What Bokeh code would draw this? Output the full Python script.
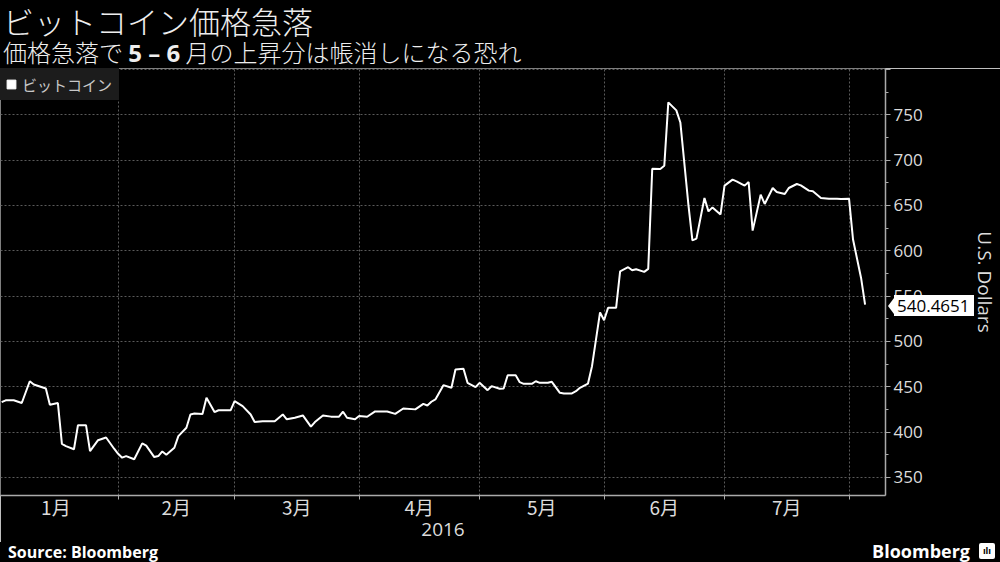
import pandas as pd
from datetime import datetime
from bokeh.plotting import figure
from bokeh.layouts import column
from bokeh.models import (FixedTicker, CustomJSTickFormatter, Range1d, Div,
                          ColumnDataSource, Legend, LegendItem)
from bokeh.embed import file_html
from bokeh.resources import INLINE

# ---------------- data ----------------
dates = [
    "2016-01-03", "2016-01-04", "2016-01-06", "2016-01-08", "2016-01-10", "2016-01-11",
    "2016-01-14", "2016-01-15", "2016-01-17", "2016-01-18", "2016-01-19", "2016-01-21",
    "2016-01-22", "2016-01-24", "2016-01-25", "2016-01-27", "2016-01-29", "2016-01-31",
    "2016-02-01", "2016-02-02", "2016-02-03", "2016-02-05", "2016-02-07", "2016-02-08",
    "2016-02-10", "2016-02-11", "2016-02-12", "2016-02-13", "2016-02-15", "2016-02-16",
    "2016-02-18", "2016-02-19", "2016-02-20", "2016-02-22", "2016-02-23", "2016-02-25",
    "2016-02-26", "2016-02-29",
    "2016-03-01", "2016-03-03", "2016-03-05", "2016-03-06", "2016-03-08", "2016-03-11",
    "2016-03-13", "2016-03-14", "2016-03-16", "2016-03-18", "2016-03-20", "2016-03-21",
    "2016-03-23", "2016-03-25", "2016-03-27", "2016-03-28", "2016-03-29", "2016-03-31",
    "2016-04-01", "2016-04-03", "2016-04-05", "2016-04-08", "2016-04-10", "2016-04-12",
    "2016-04-15", "2016-04-17", "2016-04-18", "2016-04-19", "2016-04-20", "2016-04-22",
    "2016-04-24", "2016-04-25", "2016-04-27", "2016-04-28", "2016-04-30",
    "2016-05-01", "2016-05-03", "2016-05-04", "2016-05-06", "2016-05-07", "2016-05-08",
    "2016-05-10", "2016-05-11", "2016-05-12", "2016-05-14", "2016-05-15", "2016-05-16",
    "2016-05-18", "2016-05-19", "2016-05-21", "2016-05-22", "2016-05-24", "2016-05-25",
    "2016-05-26", "2016-05-28", "2016-05-29", "2016-05-31",
    "2016-06-01", "2016-06-02", "2016-06-04", "2016-06-05", "2016-06-07", "2016-06-08",
    "2016-06-09", "2016-06-11", "2016-06-12", "2016-06-13", "2016-06-15", "2016-06-16",
    "2016-06-17", "2016-06-19", "2016-06-20", "2016-06-22", "2016-06-23", "2016-06-24",
    "2016-06-26", "2016-06-27", "2016-06-28", "2016-06-30",
    "2016-07-01", "2016-07-03", "2016-07-04", "2016-07-06", "2016-07-07", "2016-07-08",
    "2016-07-10", "2016-07-11", "2016-07-13", "2016-07-14", "2016-07-16", "2016-07-17",
    "2016-07-19", "2016-07-20", "2016-07-22", "2016-07-23", "2016-07-25", "2016-07-27",
    "2016-07-29", "2016-07-30",
    "2016-08-01", "2016-08-02", "2016-08-04", "2016-08-05",
]
prices = [
    433, 435, 435, 432, 456, 452.5,
    448, 430, 432, 387, 384.5, 381,
    407.6, 407.6, 379, 391, 394, 381.6,
    376, 371.7, 373.5, 370, 387.5, 385,
    372.4, 373.5, 378.6, 375, 382.7, 395.5,
    404.7, 419.4, 420.5, 420, 437.8, 422,
    424, 424,
    434, 428.6, 419.4, 411, 412, 412,
    419.4, 414, 415.8, 418.3, 405.9, 411,
    418.3, 417, 417, 422.4, 415.8, 414,
    417.6, 416.9, 422.7, 422.7, 420, 426,
    425, 431, 429.3, 433.4, 436, 451.7,
    448.8, 469, 469.8, 454.3, 449.5,
    454.3, 446.2, 450.6, 447.7, 448, 462.7,
    462.7, 455, 453.2, 453.2, 456, 454.3,
    454.3, 455.4, 443.3, 442.6, 442.6, 445,
    448.8, 453.5, 472.6, 532,
    523.3, 537, 537, 577.3, 581.8, 578.4,
    579.5, 576.7, 580, 690.5, 690.2, 693.8,
    763.6, 754.8, 741.5, 650.8, 611.5, 613.4,
    658.2, 643.4, 647.8, 640,
    671.8, 678.4, 676.5, 671.8, 675.8, 622.2,
    661.8, 651.6, 669.2, 664.8, 662.6, 669.2,
    673.6, 672.1, 666.3, 665.5, 658.2, 657.4,
    657.4, 657.1,
    657.4, 612.3, 570, 540.4651,
]
series_name = "ビットコイン"
last_value_text = "540.4651"
month_starts = ["2016-01-01", "2016-02-01", "2016-03-01", "2016-04-01",
                "2016-05-01", "2016-06-01", "2016-07-01", "2016-08-01"]
month_labels = ["1月", "2月", "3月", "4月", "5月", "6月", "7月", "8月",
                "9月", "10月", "11月", "12月"]
y_ticks = [350, 400, 450, 500, 550, 600, 650, 700, 750, 800]
y_minor = [375, 425, 475, 525, 575, 625, 675, 725, 775]
year_label = "2016"
y_label = "U.S. Dollars"
title_text = "ビットコイン価格急落"
sub_a, sub_b, sub_c = "価格急落で", "5 – 6", "月の上昇分は帳消しになる恐れ"
source_text = "Source: Bloomberg"
brand_text = "Bloomberg"

# ---------------- layout / style ----------------
TXT = "#dcdcdc"
GRID = "#5a5a5a"
JP = "Noto Sans CJK JP"
NUM = "Open Sans"
W = 1000
HEAD_H = 68
FIG_H = 474
FOOT_H = 20
BORDER_B = 47
BORDER_R = 113
Y0, Y1 = 330, 801

# ---------------- header ----------------
header = Div(width=W, height=HEAD_H, margin=0, styles={"background-color": "#000000"},
             text=f"""
<div style="position:relative;width:{W}px;height:{HEAD_H}px;background:#000;color:#eeeeee;
            font-family:'{JP}';white-space:nowrap;">
  <div style="position:absolute;left:3px;top:5px;font-size:31px;line-height:31px;font-weight:300;">{title_text}</div>
  <div style="position:absolute;left:3px;top:40px;font-size:24px;line-height:24px;font-weight:300;">{sub_a}
    <span style="font-family:'{NUM}';font-weight:bold;">{sub_b}</span> {sub_c}</div>
</div>""")

# ---------------- figure ----------------
src = ColumnDataSource(dict(date=pd.to_datetime(dates), price=prices))

def ms(s):
    return pd.Timestamp(s).value / 1e6

bounds = [ms(s) for s in month_starts]
mids = [(a + b) / 2 for a, b in zip(bounds[:-1], bounds[1:])]

p = figure(width=W, height=FIG_H, x_axis_type="datetime", y_axis_location="right",
           output_backend="svg", toolbar_location=None,
           x_range=Range1d(datetime(2016, 1, 2, 17), datetime(2016, 8, 10, 2)),
           y_range=Range1d(Y0, Y1),
           min_border_left=0, min_border_right=BORDER_R, min_border_top=0,
           min_border_bottom=BORDER_B, margin=0)
p.background_fill_color = "#000000"
p.border_fill_color = "#000000"
p.outline_line_color = None

p.line(x="date", y="price", source=src, line_color="white", line_width=2)

# x axis
xa = p.xaxis[0]
xa.ticker = FixedTicker(ticks=mids, minor_ticks=bounds[1:])
xa.formatter = CustomJSTickFormatter(args=dict(labels=month_labels),
                                     code="return labels[new Date(tick).getUTCMonth()];")
xa.major_tick_in = 0
xa.major_tick_out = 0
xa.minor_tick_in = 0
xa.minor_tick_out = 4
xa.minor_tick_line_color = "#aaaaaa"
xa.axis_line_color = "#aaaaaa"
xa.axis_line_width = 1.5
xa.major_label_text_color = TXT
xa.major_label_text_font = JP
xa.major_label_text_font_size = "19px"
xa.major_label_standoff = -7
xa.axis_label = year_label
xa.axis_label_text_color = TXT
xa.axis_label_text_font = NUM
xa.axis_label_text_font_size = "19px"
xa.axis_label_text_font_style = "normal"
xa.axis_label_standoff = 0

# y axis
ya = p.yaxis[0]
ya.ticker = FixedTicker(ticks=y_ticks, minor_ticks=y_minor)
ya.major_label_overrides = {800: ""}
ya.major_tick_in = 0
ya.major_tick_out = 5
ya.minor_tick_in = 0
ya.minor_tick_out = 3
ya.major_tick_line_color = "#aaaaaa"
ya.minor_tick_line_color = "#aaaaaa"
ya.axis_line_color = "#aaaaaa"
ya.axis_line_width = 1.5
ya.major_label_text_color = TXT
ya.major_label_text_font = NUM
ya.major_label_text_font_size = "17px"
ya.major_label_standoff = 3
ya.axis_label = y_label
ya.axis_label_text_color = TXT
ya.axis_label_text_font = NUM
ya.axis_label_text_font_size = "19px"
ya.axis_label_text_font_style = "normal"
ya.axis_label_standoff = 46

# grids
p.xgrid.ticker = FixedTicker(ticks=bounds[1:])
for g in (p.xgrid[0], p.ygrid[0]):
    g.grid_line_color = GRID
    g.grid_line_dash = "2 2"
    g.grid_line_width = 1

# legend (square swatch)
nan = float("nan")
leg_r = p.scatter(x=[nan], y=[nan], marker="square", size=9,
                  fill_color="white", line_color="white")
legend = Legend(items=[LegendItem(label=series_name, renderers=[leg_r])],
                location="top_left", margin=0, padding=0, spacing=0,
                glyph_width=22, glyph_height=22, label_standoff=0,
                label_height=32, label_width=97,
                background_fill_color="#1c1c1c", background_fill_alpha=1,
                border_line_color=None, label_text_color="#c8c8c8",
                label_text_font=JP, label_text_font_size="15px")
p.add_layout(legend)

# ---------------- footer (with last-value callout overlaid at the axis) ----------------
frame_h = FIG_H - BORDER_B
val_top = HEAD_H + (Y1 - prices[-1]) / (Y1 - Y0) * frame_h - (HEAD_H + FIG_H)
axis_x = W - BORDER_R
footer = Div(width=W, height=FOOT_H, margin=0, styles={"background-color": "#000000"},
             text=f"""
<div style="position:relative;width:{W}px;height:{FOOT_H}px;background:#000;color:#fff;
            white-space:nowrap;font-family:'{NUM}';font-weight:bold;">
  <div style="position:absolute;left:8px;top:0px;font-size:16px;line-height:20px;">{source_text}</div>
  <div style="position:absolute;right:30px;top:-2px;font-size:18px;line-height:22px;">{brand_text}</div>
  <div style="position:absolute;left:979px;top:1px;width:16px;height:16px;background:#fff;
              border-radius:2px;color:#000;font-size:9px;line-height:16px;text-align:center;">ılı</div>
  <div style="position:absolute;left:{axis_x + 1}px;top:{val_top - 9:.1f}px;height:21px;
              display:flex;align-items:center;z-index:10;">
    <div style="width:0;height:0;border-top:8px solid transparent;border-bottom:8px solid transparent;
                border-right:6px solid #fff;"></div>
    <div style="background:#fff;color:#000;font-weight:normal;font-size:17px;line-height:21px;
                height:21px;padding:0 4px 0 3px;">{last_value_text}</div>
  </div>
</div>""")

layout = column(header, p, footer, spacing=0, margin=0)
open("out.html", "w").write(file_html(layout, INLINE))
